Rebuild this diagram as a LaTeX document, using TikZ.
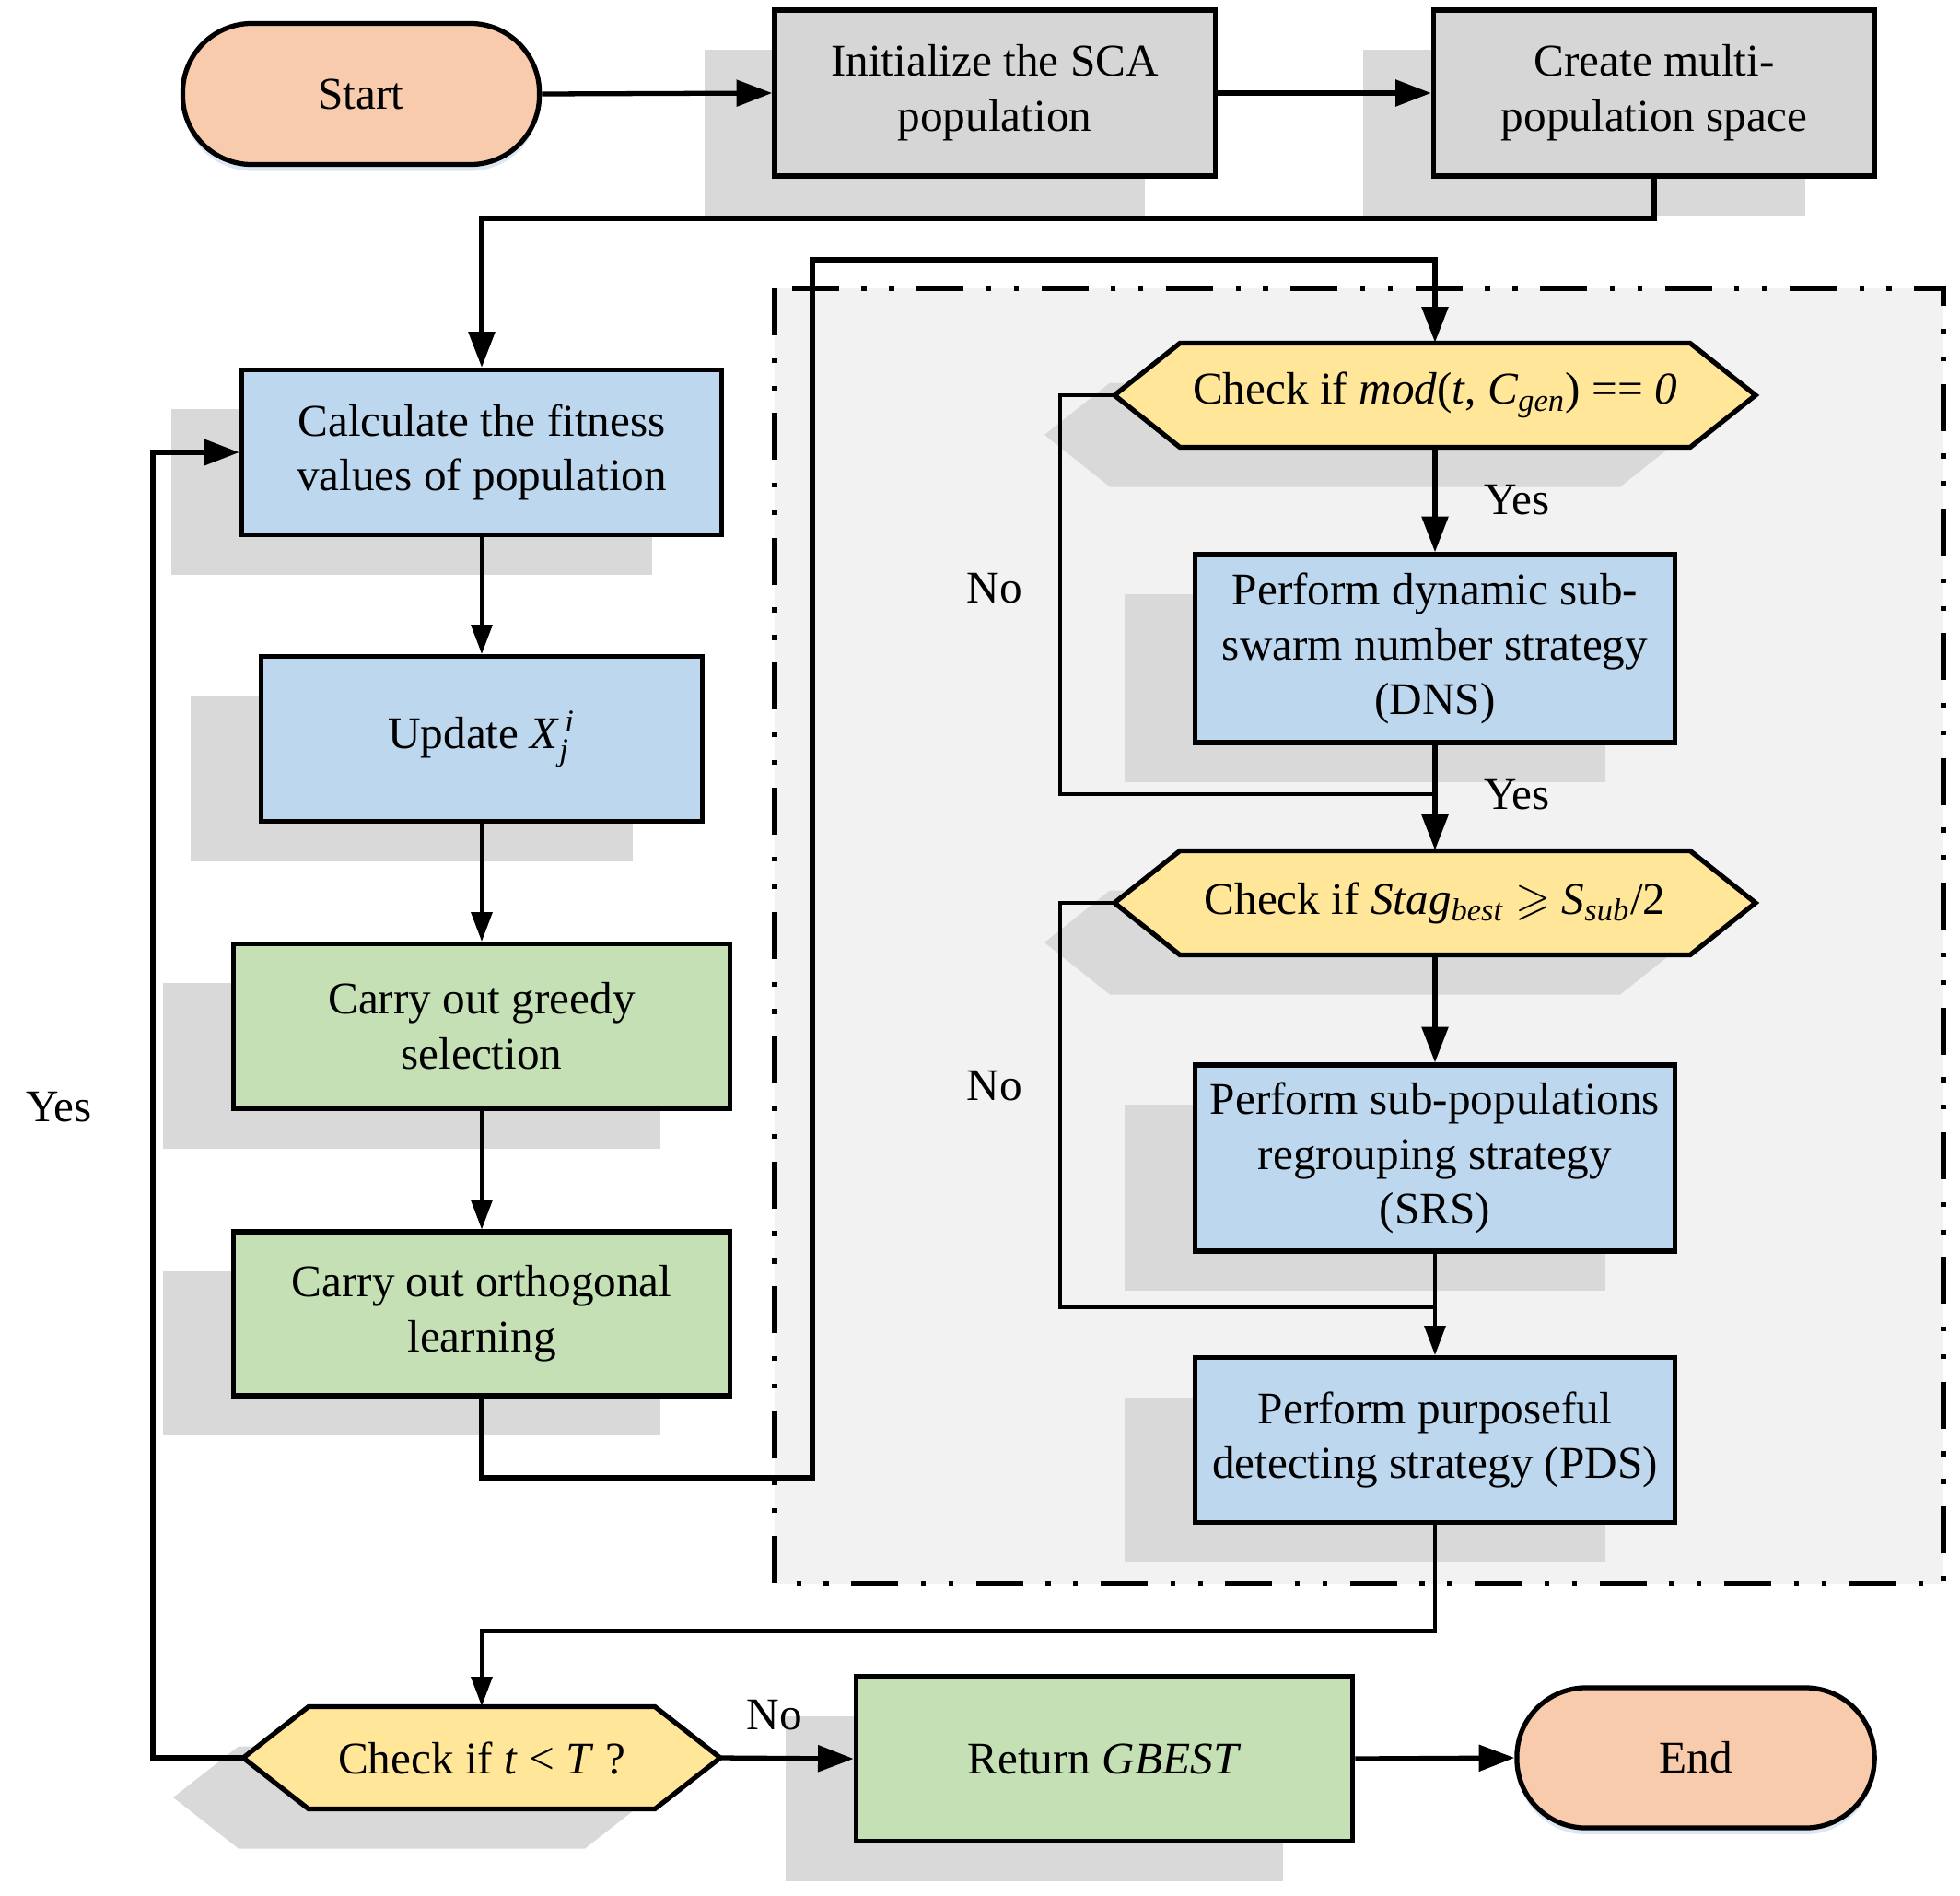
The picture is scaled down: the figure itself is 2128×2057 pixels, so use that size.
\documentclass[tikz,border=0pt]{standalone}
\usepackage{fontspec}
\setmainfont{Liberation Serif}
\usepackage{amsmath,amssymb}
\usetikzlibrary{arrows.meta,shadows,calc}
\definecolor{peach}{HTML}{F8CBAD}
\definecolor{boxgray}{HTML}{D6D6D6}
\definecolor{shadowc}{HTML}{D9D9D9}
\definecolor{bluef}{HTML}{BDD7EE}
\definecolor{greenf}{HTML}{C5E0B4}
\definecolor{hexy}{HTML}{FFE699}
\definecolor{panel}{HTML}{F2F2F2}
\definecolor{glow}{HTML}{DDE7F3}
\newcommand{\fs}{\fontsize{14}{17}\selectfont}
\newcommand{\hexbox}[6]{%
 \fill[shadowc] ({#2-#4/2-76},{#3+43}) -- ({#2-#4/2+71-76},{#3-#5/2+43}) -- ({#2+#4/2-71-76},{#3-#5/2+43}) -- ({#2+#4/2-76},{#3+43}) -- ({#2+#4/2-71-76},{#3+#5/2+43}) -- ({#2-#4/2+71-76},{#3+#5/2+43}) -- cycle;
 \draw[line width=1.5pt, fill=hexy] ({#2-#4/2},{#3}) -- ({#2-#4/2+71},{#3-#5/2}) -- ({#2+#4/2-71},{#3-#5/2}) -- ({#2+#4/2},{#3}) -- ({#2+#4/2-71},{#3+#5/2}) -- ({#2-#4/2+71},{#3+#5/2}) -- cycle;
 \node[font=\fs, inner sep=0pt, minimum width={#4*0.01cm}, minimum height={#5*0.01cm}] (#1) at (#2,#3) {#6};
}
\begin{document}
\begin{tikzpicture}[x=0.01cm,y=-0.01cm,
  box/.style={draw=black, line width=1.5pt, font=\fs, align=center, inner sep=2pt,
    drop shadow={shadow xshift=-0.76cm, shadow yshift=-0.43cm, fill=shadowc, opacity=1}},
  term/.style={draw=black, line width=1.5pt, fill=peach, rounded corners=0.75cm, font=\fs,
    minimum width=3.87cm, minimum height=1.53cm,
    drop shadow={shadow xshift=0cm, shadow yshift=-0.07cm, fill=glow, opacity=1}},
  conn/.style={line width=1.5pt, -{Triangle[length=11pt,width=8pt]}},
  thinconn/.style={line width=1pt, -{Triangle[length=9pt,width=6.5pt]}},
  plain/.style={line width=1.1pt},
  lbl/.style={font=\fs},
  dashbox/.style={line width=1.5pt, fill=panel, dash pattern=on 14.5pt off 7pt on 1.5pt off 7pt on 1.5pt off 7pt}
]
\useasboundingbox (0,0) rectangle (2128,2057);

% panel
\draw[dashbox] (841,313) rectangle (2110,1719);

% top row
\node[term] (start) at (392,102) {Start};
\node[box, fill=boxgray, minimum width=4.78cm, minimum height=1.8cm] (init) at (1080,101) {Initialize the SCA\\population};
\node[box, fill=boxgray, minimum width=4.79cm, minimum height=1.8cm] (create) at (1796,101) {Create multi-\\population space};

% left column
\node[box, fill=bluef, minimum width=5.21cm, minimum height=1.79cm] (calc) at (523,491) {Calculate the fitness\\values of population};
\node[box, fill=bluef, minimum width=4.79cm, minimum height=1.79cm] (update) at (523,802) {Update \textit{X}$_{\textit{j}}^{\,\textit{i}}$};
\node[box, fill=greenf, minimum width=5.39cm, minimum height=1.79cm] (greedy) at (523,1114) {Carry out greedy\\selection};
\node[box, fill=greenf, minimum width=5.39cm, minimum height=1.78cm] (orth) at (523,1426) {Carry out orthogonal\\learning};

% right column
\hexbox{c1}{1558}{429}{696}{113}{Check if \textit{mod}(\textit{t}, \textit{C}$_{\textit{gen}}$) == \textit{0}}
\node[box, fill=bluef, minimum width=5.21cm, minimum height=2.04cm] (dns) at (1558,704) {Perform dynamic sub-\\swarm number strategy\\(DNS)};
\hexbox{c2}{1558}{980}{696}{113}{Check if \textit{Stag}$_{\textit{best}}$ $\geqslant$ \textit{S}$_{\textit{sub}}$/2}
\node[box, fill=bluef, minimum width=5.21cm, minimum height=2.02cm] (srs) at (1558,1257) {Perform sub-populations\\regrouping strategy\\(SRS)};
\node[box, fill=bluef, minimum width=5.21cm, minimum height=1.79cm] (pds) at (1558,1563) {Perform purposeful\\detecting strategy (PDS)};

% bottom row
\hexbox{c3}{523}{1908}{518}{111}{Check if \textit{t} < \textit{T} ?}
\node[box, fill=greenf, minimum width=5.39cm, minimum height=1.79cm] (ret) at (1199,1909) {Return \textit{GBEST}};
\node[term, minimum width=3.88cm, minimum height=1.52cm] (end) at (1841,1908) {End};

% coordinates for routes
\coordinate (r1) at (523,237);
\coordinate (r2) at (882,1604);
\coordinate (r3) at (882,282);
\coordinate (nx) at (1151,862);
\coordinate (ny) at (1151,1419);
\coordinate (r4) at (523,1770);
\coordinate (yx) at (166,1908);

% connectors
\draw[conn] (start.east) -- (init.west);
\draw[conn] (init.east) -- (create.west);
\draw[conn] (create.south) -- (create.south |- r1) -- (r1) -- (calc.north);
\draw[thinconn] (calc.south) -- (update.north);
\draw[thinconn] (update.south) -- (greedy.north);
\draw[thinconn] (greedy.south) -- (orth.north);
\draw[conn] (orth.south) -- (orth.south |- r2) -- (r2) -- (r3) -- (c1.north |- r3) -- (c1.north);
\draw[conn] (c1.south) -- (dns.north);
\draw[plain] (c1.west) -- (c1.west -| nx) -- (nx) -- (dns.south |- nx);
\draw[conn] (dns.south) -- (c2.north);
\draw[plain] (c2.west) -- (c2.west -| ny) -- (ny) -- (srs.south |- ny);
\draw[conn] (c2.south) -- (srs.north);
\draw[thinconn] (srs.south) -- (pds.north);
\draw[thinconn] (pds.south) -- (pds.south |- r4) -- (r4) -- (c3.north);
\draw[conn] (c3.west) -- (yx) -- (yx |- calc.west) -- (calc.west);
\draw[conn] (c3.east) -- (ret.west);
\draw[conn] (ret.east) -- (end.west);

% labels
\node[lbl] (yes1) at (1647,543) {Yes};
\node[lbl] (no1) at (1080,639) {No};
\node[lbl] (yes2) at (1647,863) {Yes};
\node[lbl] (no2) at (1080,1179) {No};
\node[lbl] (yes3) at (64,1202) {Yes};
\node[lbl] (no3) at (841,1862) {No};
\end{tikzpicture}
\end{document}
